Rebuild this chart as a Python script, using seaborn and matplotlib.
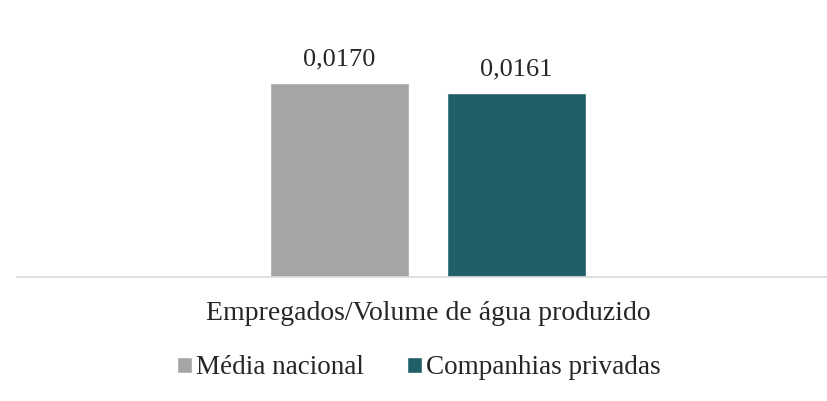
import matplotlib
matplotlib.use("Agg")
import matplotlib.pyplot as plt
import seaborn as sns
import pandas as pd

# data
categories = ["Empregados/Volume de água produzido"]
series = ["Média nacional", "Companhias privadas"]
values = [0.0170, 0.0161]
value_labels = ["0,0170", "0,0161"]
colors = ["#A5A5A5", "#215F68"]

sns.set_style("white")
plt.rcParams["font.family"] = ["Liberation Serif", "DejaVu Serif"]

df = pd.DataFrame({
    "categoria": categories * len(series),
    "serie": series,
    "valor": values,
})

fig = plt.figure(figsize=(8.28, 4.01), dpi=100)
ax = fig.add_axes([17 / 828, 1 - 277 / 401, 811 / 828, 257 / 401])

sns.barplot(data=df, x="categoria", y="valor", hue="serie", palette=colors,
            width=0.8, gap=0.215, ax=ax, legend=True, saturation=1)

for cont, lab in zip(ax.containers, value_labels):
    ax.bar_label(cont, labels=[lab], padding=9, fontsize=19, color="#262626")

ax.set_xlim(-0.929, 0.904)
ax.set_ylim(0, 0.02252)
ax.set_yticks([])
ax.set_xlabel("")
ax.set_ylabel("")
for s in ["top", "right", "left"]:
    ax.spines[s].set_visible(False)
ax.spines["bottom"].set_color("#D9D9D9")
ax.spines["bottom"].set_linewidth(1.2)
ax.tick_params(axis="x", length=0, pad=17, labelsize=20, labelcolor="#262626")

handles, labels = ax.get_legend_handles_labels()
ax.legend_.remove()
fig.legend(handles, labels, loc="center", bbox_to_anchor=(419 / 828, 1 - 368 / 401),
           ncol=2, frameon=False, fontsize=19.5, handlelength=0.55, handleheight=0.55,
           handletextpad=0.15, columnspacing=1.6, labelcolor="#262626")

fig.savefig("out.png", dpi=100, facecolor="white")
